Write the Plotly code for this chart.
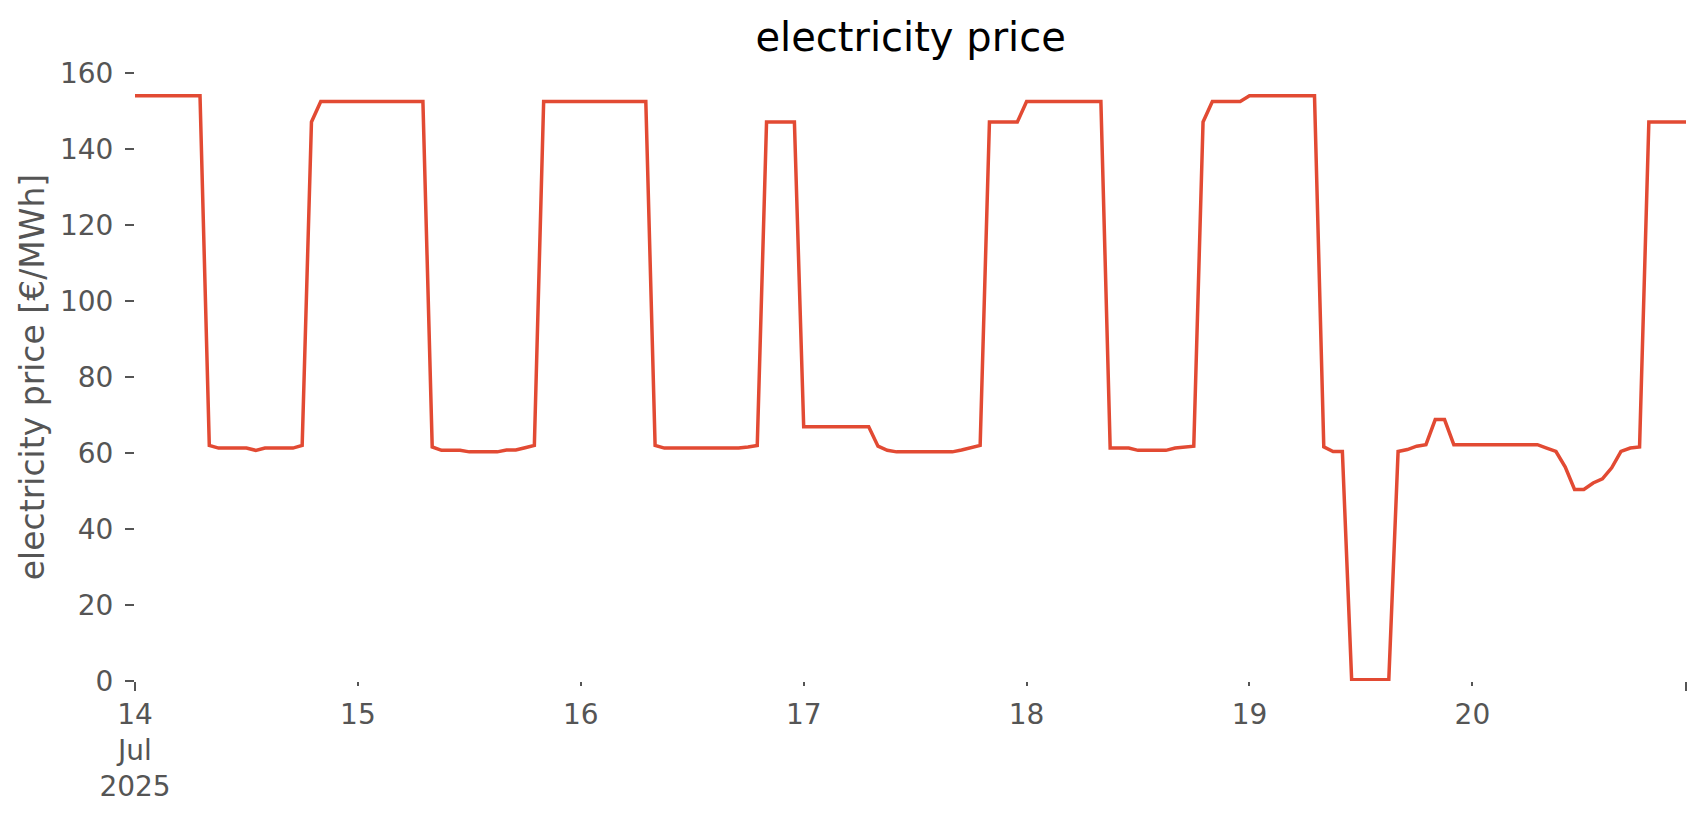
import pandas as pd
import plotly.graph_objects as go

# hourly electricity price [€/MWh], 14 Jul 2025 00:00 .. 20 Jul 2025 23:00
day14 = [154.0, 154.0, 154.0, 154.0, 154.0, 154.0, 154.0, 154.0, 62.0, 61.3, 61.3, 61.3,
         61.3, 60.7, 61.3, 61.3, 61.3, 61.3, 62.0, 147.1, 152.5, 152.5, 152.5, 152.5]
day15 = [152.5, 152.5, 152.5, 152.5, 152.5, 152.5, 152.5, 152.5, 61.6, 60.7, 60.7, 60.7,
         60.3, 60.3, 60.3, 60.3, 60.8, 60.8, 61.4, 62.0, 152.5, 152.5, 152.5, 152.5]
day16 = [152.5, 152.5, 152.5, 152.5, 152.5, 152.5, 152.5, 152.5, 62.0, 61.3, 61.3, 61.3,
         61.3, 61.3, 61.3, 61.3, 61.3, 61.3, 61.6, 62.0, 147.1, 147.1, 147.1, 147.1]
day17 = [66.9, 66.9, 66.9, 66.9, 66.9, 66.9, 66.9, 66.9, 61.8, 60.7, 60.3, 60.3,
         60.3, 60.3, 60.3, 60.3, 60.3, 60.8, 61.4, 62.0, 147.1, 147.1, 147.1, 147.1]
day18 = [152.5, 152.5, 152.5, 152.5, 152.5, 152.5, 152.5, 152.5, 152.5, 61.3, 61.3, 61.3,
         60.7, 60.7, 60.7, 60.7, 61.3, 61.5, 61.8, 147.1, 152.5, 152.5, 152.5, 152.5]
day19 = [154.0, 154.0, 154.0, 154.0, 154.0, 154.0, 154.0, 154.0, 61.6, 60.4, 60.4, 0.3,
         0.3, 0.3, 0.3, 0.3, 60.4, 60.9, 61.8, 62.2, 68.8, 68.8, 62.2, 62.2]
day20 = [62.2, 62.2, 62.2, 62.2, 62.2, 62.2, 62.2, 62.2, 61.3, 60.4, 56.3, 50.4,
         50.4, 52.1, 53.2, 56.1, 60.4, 61.3, 61.6, 147.1, 147.1, 147.1, 147.1, 147.1]

price = day14 + day15 + day16 + day17 + day18 + day19 + day20
times = pd.date_range("2025-07-14 00:00", periods=len(price), freq="h")

tick_days = pd.date_range("2025-07-14", "2025-07-20", freq="D")
tick_text = ["14<br>Jul<br>2025", "15", "16", "17", "18", "19", "20"]
major_ticks = [times[0], times[-1]]

y_ticks = [0, 20, 40, 60, 80, 100, 120, 140, 160]

GREY = "#555555"
FONT = "DejaVu Sans"

fig = go.Figure()
fig.add_trace(go.Scatter(
    x=times, y=price, mode="lines",
    line=dict(color="#E24A33", width=3.5),
    showlegend=False,
))
# helper trace so the overlay axis (long major ticks) is drawn
fig.add_trace(go.Scatter(
    x=[times[0], times[-1]], y=[None, None], xaxis="x2",
    mode="lines", showlegend=False, hoverinfo="skip",
))

fig.update_layout(
    width=1706, height=815,
    margin=dict(l=135, r=20, t=72.5, b=133.5, autoexpand=False),
    paper_bgcolor="white", plot_bgcolor="white",
    font=dict(family=FONT, color=GREY),
    title=dict(text="electricity price", x=0.5338, xanchor="center",
               yref="container", y=1 - 37 / 815, yanchor="middle",
               font=dict(family=FONT, size=40, color="black")),
    xaxis=dict(
        range=[times[0], times[-1]], automargin=False,
        tickmode="array", tickvals=list(tick_days), ticktext=tick_text,
        ticks="outside", ticklen=4, tickwidth=1.5, tickcolor=GREY,
        tickfont=dict(family=FONT, size=28, color=GREY),
        ticklabelstandoff=4,
        showgrid=False, zeroline=False, showline=False,
    ),
    xaxis2=dict(
        overlaying="x", matches="x", anchor="y", side="bottom", automargin=False,
        tickmode="array", tickvals=major_ticks,
        ticks="outside", ticklen=9, tickwidth=1.5, tickcolor=GREY,
        showticklabels=False, showgrid=False, zeroline=False, showline=False,
    ),
    yaxis=dict(
        range=[0, 160], automargin=False,
        tickmode="array", tickvals=y_ticks,
        ticks="outside", ticklen=9, tickwidth=1.5, tickcolor=GREY,
        tickfont=dict(family=FONT, size=28, color=GREY),
        ticklabelstandoff=6,
        showgrid=False, zeroline=False, showline=False,
        title=dict(text="electricity price [€/MWh]", standoff=5,
                   font=dict(family=FONT, size=33, color=GREY)),
    ),
)

fig.write_html(
    "out.html",
    config={"displayModeBar": False},
    post_script="document.body.style.margin='0';document.body.style.overflow='hidden';",
)
